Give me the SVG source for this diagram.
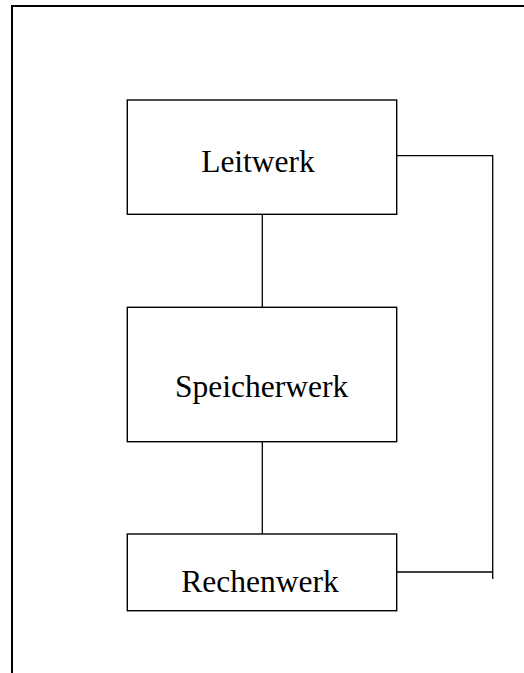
<svg xmlns="http://www.w3.org/2000/svg" width="524" height="673" viewBox="0 0 524 673">
<style>
.box{fill:#fff;stroke:#000;stroke-width:1.4}
.lbl{font-family:"Liberation Serif","Times New Roman",serif;font-size:31.5px;fill:#000;text-anchor:middle}
.con{fill:none;stroke:#000;stroke-width:1.3}
.frame{fill:none;stroke:#000;stroke-width:2}
</style>
<rect width="524" height="673" fill="#fff"/>
<path class="frame" d="M12 673 V6 H524"/>
<g id="connectors">
<line class="con" x1="262.3" y1="212" x2="262.3" y2="308"/>
<line class="con" x1="262.3" y1="440" x2="262.3" y2="534"/>
<polyline class="con" points="397,155.7 492.7,155.7 492.7,579"/>
<line class="con" x1="397" y1="572" x2="492.7" y2="572"/>
</g>
<g id="leitwerk">
<rect class="box" x="127.3" y="100" width="269.4" height="114.3"/>
<text class="lbl" x="258" y="172">Leitwerk</text>
</g>
<g id="speicherwerk">
<rect class="box" x="127.3" y="307.3" width="269.4" height="134.4"/>
<text class="lbl" x="261.7" y="397">Speicherwerk</text>
</g>
<g id="rechenwerk">
<rect class="box" x="127.3" y="534" width="269.4" height="76.7"/>
<text class="lbl" x="260" y="591.7">Rechenwerk</text>
</g>
</svg>
